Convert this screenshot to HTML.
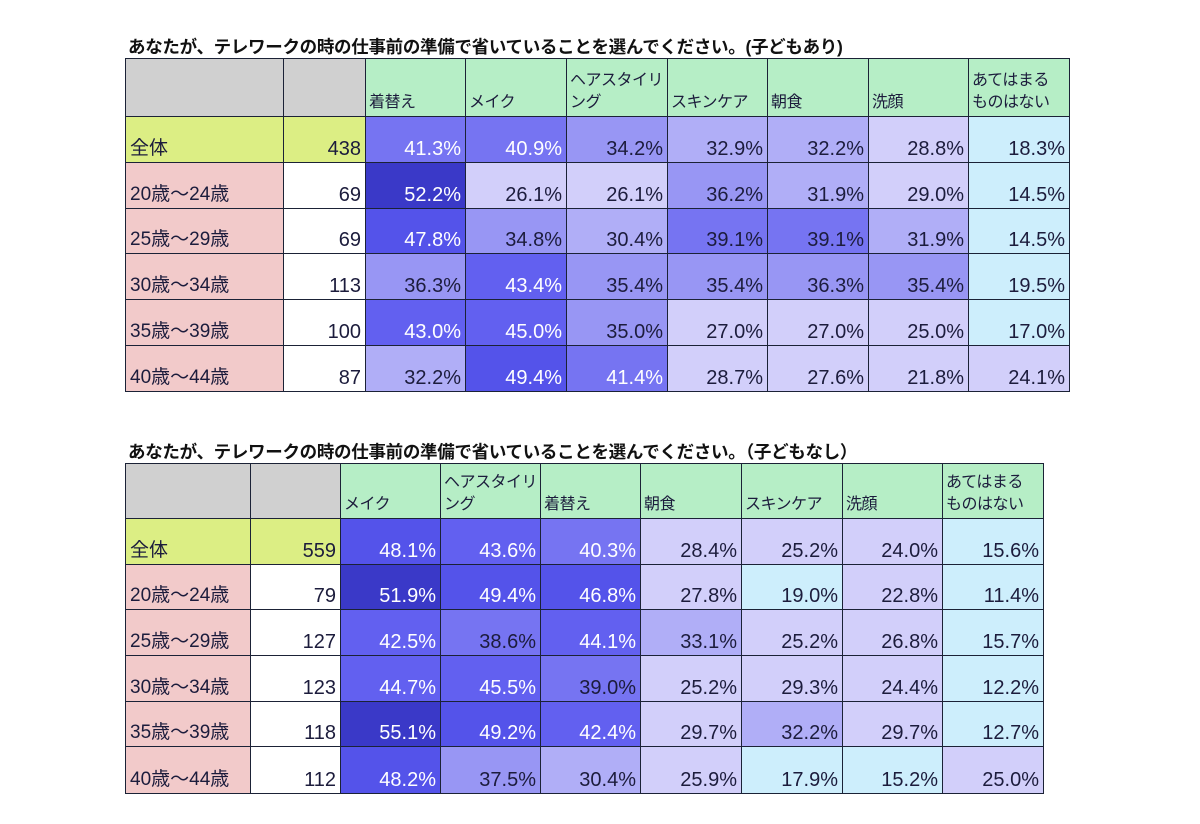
<!DOCTYPE html>
<html><head><meta charset="utf-8">
<style>
body{margin:0;width:1200px;height:824px;background:#fff;position:relative;overflow:hidden;font-family:"Liberation Sans","Noto Sans CJK JP",sans-serif;}
.title{position:absolute;left:128px;font-size:17.5px;font-weight:bold;color:#111;white-space:nowrap;letter-spacing:-0.3px;}
.cell{position:absolute;box-sizing:border-box;border:1px solid #1b2236;font-size:20px;line-height:24px;color:#1c1c3c;padding:0 4px 1px 4px;display:flex;align-items:flex-end;overflow:hidden;white-space:nowrap;}
.num{justify-content:flex-end;}
.lab{font-size:19px;}
.hdr{font-size:16px;line-height:22px;background:#b6eec6;padding:0 2px 2px 3px;letter-spacing:-0.5px;}
</style></head><body>
<div class="title" style="top:34px">あなたが、テレワークの時の仕事前の準備で省いていることを選んでください。(子どもあり)</div>
<div class="title" style="top:439px">あなたが、テレワークの時の仕事前の準備で省いていることを選んでください。（子どもなし）</div>
<div id="root"></div>
<script>
const rowLabels=["全体","20歳～24歳","25歳～29歳","30歳～34歳","35歳～39歳","40歳～44歳"];
const cats1=["着替え","メイク","ヘアスタイリ<br>ング","スキンケア","朝食","洗顔","あてはまる<br>ものはない"];
const n1=[438,69,69,113,100,87];
const vals1=[
[41.3,40.9,34.2,32.9,32.2,28.8,18.3],
[52.2,26.1,26.1,36.2,31.9,29.0,14.5],
[47.8,34.8,30.4,39.1,39.1,31.9,14.5],
[36.3,43.4,35.4,35.4,36.3,35.4,19.5],
[43.0,45.0,35.0,27.0,27.0,25.0,17.0],
[32.2,49.4,41.4,28.7,27.6,21.8,24.1]];
const cats2=["メイク","ヘアスタイリ<br>ング","着替え","朝食","スキンケア","洗顔","あてはまる<br>ものはない"];
const n2=[559,79,127,123,118,112];
const vals2=[
[48.1,43.6,40.3,28.4,25.2,24.0,15.6],
[51.9,49.4,46.8,27.8,19.0,22.8,11.4],
[42.5,38.6,44.1,33.1,25.2,26.8,15.7],
[44.7,45.5,39.0,25.2,29.3,24.4,12.2],
[55.1,49.2,42.4,29.7,32.2,29.7,12.7],
[48.2,37.5,30.4,25.9,17.9,15.2,25.0]];

function color(v){
  if(v<20) return "#cdeefc";
  if(v<30) return "#d2cffa";
  if(v<34) return "#b0aef7";
  if(v<38) return "#9896f4";
  if(v<42) return "#7674f2";
  if(v<46) return "#6260f0";
  if(v<50) return "#5453ea";
  return "#3a39c8";
}
const root=document.getElementById('root');
function cell(x,y,w,h,html,cls,bg){
  const d=document.createElement('div');
  d.className='cell '+cls;
  d.style.left=x+'px';d.style.top=y+'px';d.style.width=(w+1)+'px';d.style.height=(h+1)+'px';
  d.style.background=bg;
  d.innerHTML='<span>'+html+'</span>';
  root.appendChild(d);return d;
}
function build(t,cols,rows,cats,ns,vals){
  let el;
  el=cell(cols[0],rows[0],cols[1]-cols[0],rows[1]-rows[0],'','','#d0d0d0');
  
  
  el=cell(cols[1],rows[0],cols[2]-cols[1],rows[1]-rows[0],'','','#d0d0d0');
  
  
  cats.forEach((c,j)=>{
    el=cell(cols[j+2],rows[0],cols[j+3]-cols[j+2],rows[1]-rows[0],c,'hdr','#b6eec6');
    
    
  });
  rowLabels.forEach((r,i)=>{
    const y=rows[i+1],h=rows[i+2]-rows[i+1];
    el=cell(cols[0],y,cols[1]-cols[0],h,r,'lab',i==0?'#dcee84':'#f2caca');
    
    
    el=cell(cols[1],y,cols[2]-cols[1],h,String(ns[i]),'num',i==0?'#dcee84':'#ffffff');
    
    
    vals[i].forEach((v,j)=>{
      el=cell(cols[j+2],y,cols[j+3]-cols[j+2],h,v.toFixed(1)+'%','num',color(v));
      
      
      if(v>=40) el.style.color='#ffffff';
    });
  });
}
build('table1',[125,283,365,465,566,667,767,868,968,1069],[58,116,162,208,253,299,345,391],cats1,n1,vals1);
build('table2',[125,250,340,440,540,640,741,842,942,1043],[463,518,564,609,655,701,746,793],cats2,n2,vals2);
</script>
</body></html>
